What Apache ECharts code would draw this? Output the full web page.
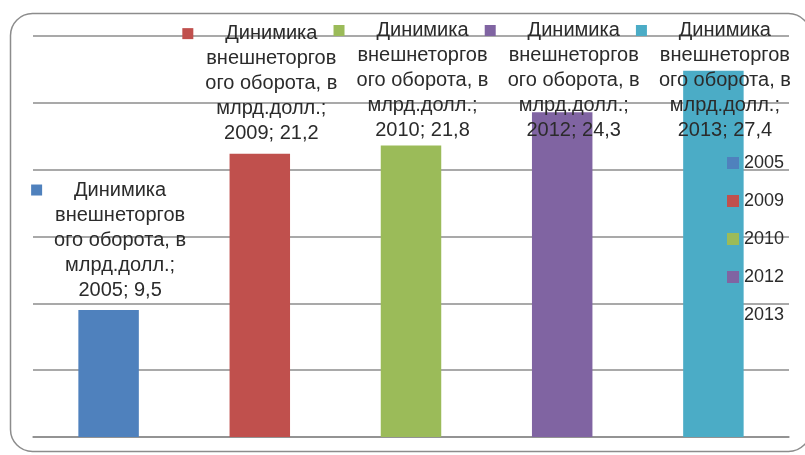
<!DOCTYPE html>
<html>
<head>
<meta charset="utf-8">
<title>Динимика внешнеторгового оборота</title>
<script src="https://cdn.jsdelivr.net/npm/echarts@6/dist/echarts.min.js"></script>
<style>
  html, body { margin: 0; padding: 0; background: #fff; }
  #main { width: 805px; height: 455px; }
</style>
</head>
<body>
<div id="main"></div>
<script>
const years = ["2005", "2009", "2010", "2012", "2013"];
const turnover = [9.5, 21.2, 21.8, 24.3, 27.4];
const barColors = ["#4f81bd", "#c0504d", "#9bbb59", "#8064a2", "#4bacc6"];
const titleLines = ["Динимика", "внешнеторгов", "ого оборота, в", "млрд.долл.;"];

const chart = echarts.init(document.getElementById("main"));

function fmt(v) {
  return v.toFixed(1).replace(".", ",");
}

// one series per year so the legend lists the years
const series = years.map(function (year, i) {
  return {
    name: year,
    type: "bar",
    stack: "all",
    barWidth: "40%",
    itemStyle: { color: barColors[i] },
    data: years.map(function (y, j) { return j === i ? turnover[j] : "-"; }),
    label: {
      show: true,
      position: "top",
      distance: 10,
      align: "center",
      fontFamily: "Liberation Sans",
      formatter: function (p) {
        let s = "{sq|}{gap|}{t|" + titleLines[0] + "}";
        for (let k = 1; k < titleLines.length; k++) {
          s += "\n{sp|}{t|" + titleLines[k] + "}";
        }
        s += "\n{sp|}{t|" + p.seriesName + "; " + fmt(p.value) + "}";
        return s;
      },
      rich: {
        sq: { width: 11, height: 11, backgroundColor: barColors[i], align: "left" },
        gap: { width: 12, align: "left" },
        sp: { width: 23, align: "left" },
        t: { fontSize: 20, lineHeight: 25, color: "#2b2b2b", fontFamily: "Liberation Sans", align: "center" }
      }
    },
    // keep labels inside the chart, like Excel does
    labelLayout: function (params) {
      const r = params.labelRect;
      return { x: r.x + r.width / 2, y: Math.max(r.y, 18), align: "center", verticalAlign: "top" };
    }
  };
});

chart.setOption({
  backgroundColor: "#fff",
  animation: false,
  grid: { left: 33, right: 16, top: 36, bottom: 18 },
  legend: {
    orient: "vertical",
    left: 727,
    top: 154,
    padding: 0,
    data: years,
    icon: "rect",
    itemWidth: 12,
    itemHeight: 12,
    itemGap: 20,
    textStyle: { fontSize: 18, lineHeight: 18, color: "#2b2b2b", fontFamily: "Liberation Sans" }
  },
  xAxis: {
    type: "category",
    data: years,
    axisLabel: { show: false },
    axisTick: { show: false },
    axisLine: { lineStyle: { color: "#8c8c8c", width: 1.5 } }
  },
  yAxis: {
    type: "value",
    min: 0,
    max: 30,
    interval: 5,
    axisLabel: { show: false },
    axisLine: { show: false },
    axisTick: { show: false },
    splitLine: { lineStyle: { color: "#8c8c8c", width: 1.5 } }
  },
  graphic: [
    {
      type: "rect",
      silent: true,
      shape: { x: 10.5, y: 13.5, width: 800, height: 438, r: 22 },
      style: { fill: "none", stroke: "#8c8c8c", lineWidth: 1.5 }
    }
  ],
  series: series
});

window.onresize = chart.resize;
</script>
</body>
</html>
